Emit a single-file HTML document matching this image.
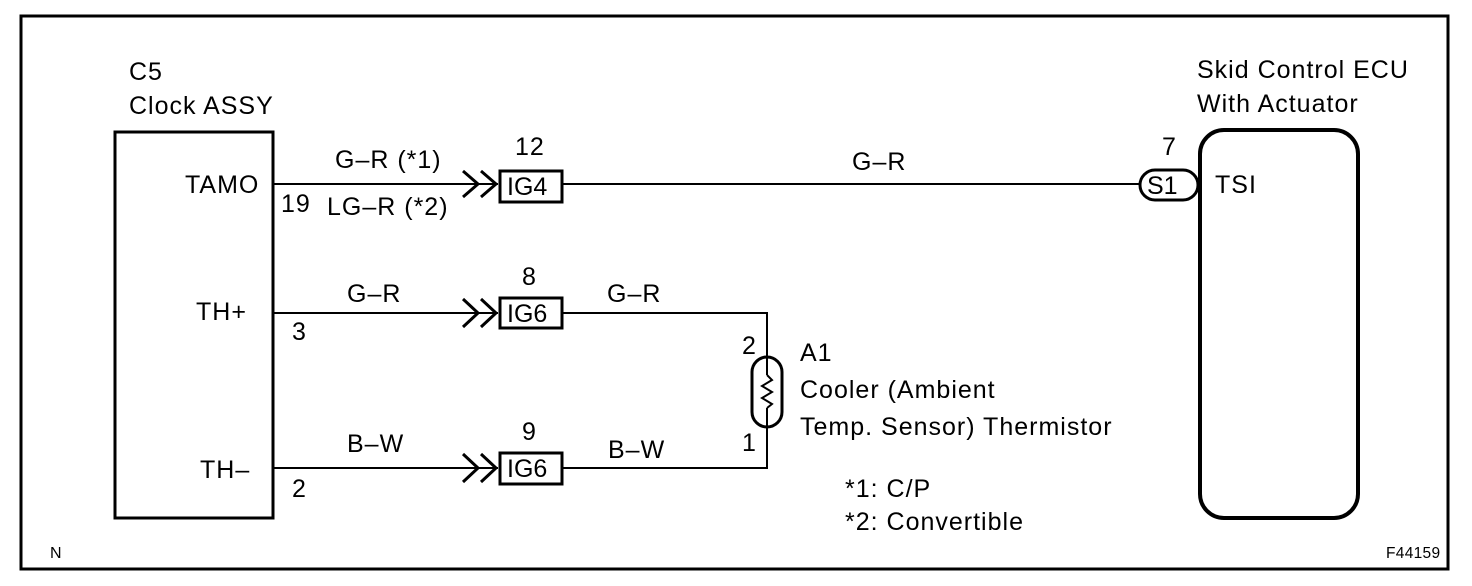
<!DOCTYPE html>
<html><head><meta charset="utf-8"><style>
html,body{margin:0;padding:0;background:#fff;}
svg{display:block;}
text{font-family:"Liberation Sans",Arial,sans-serif;font-size:25px;letter-spacing:1px;fill:#000;}
</style></head><body>
<svg width="1472" height="586" viewBox="0 0 1472 586" xmlns="http://www.w3.org/2000/svg">
<rect x="21" y="16" width="1427" height="553" fill="none" stroke="#000" stroke-width="3"/>
<rect x="115" y="132" width="158" height="386" fill="none" stroke="#000" stroke-width="3"/>
<text x="129" y="80">C5</text>
<text x="129" y="114">Clock ASSY</text>
<rect x="1200" y="130" width="158" height="388" rx="24" ry="24" fill="none" stroke="#000" stroke-width="4"/>
<text x="1197" y="78">Skid Control ECU</text>
<text x="1197" y="112">With Actuator</text>
<g stroke="#000" stroke-width="2" fill="none">
<line x1="273" y1="184" x2="498" y2="184"/>
<polyline points="463,171 478,184 463,197" stroke-width="3"/>
<polyline points="481,171 496,184 481,197" stroke-width="3"/>
<rect x="500" y="171" width="62" height="31" stroke-width="3"/>
<line x1="562" y1="184" x2="1140" y2="184"/>
<rect x="1140" y="170" width="58" height="30" rx="15" ry="15" stroke-width="3"/>
<line x1="273" y1="313" x2="498" y2="313"/>
<polyline points="463,299 478,313 463,327" stroke-width="3"/>
<polyline points="481,299 496,313 481,327" stroke-width="3"/>
<rect x="500" y="298" width="62" height="30" stroke-width="3"/>
<polyline points="562,313 767,313 767,468 562,468"/>
<line x1="273" y1="468" x2="498" y2="468"/>
<polyline points="463,454 478,468 463,482" stroke-width="3"/>
<polyline points="481,454 496,468 481,482" stroke-width="3"/>
<rect x="500" y="453" width="62" height="31" stroke-width="3"/>
<rect x="752" y="357" width="30" height="70" rx="15" ry="15" fill="#fff" stroke-width="3"/>
<line x1="767" y1="357" x2="767" y2="375"/>
<polyline points="767,375 772,380 762,386 772,392 762,398 772,404 767,408"/>
<line x1="767" y1="408" x2="767" y2="427"/>
</g>
<text x="185" y="193">TAMO</text>
<text x="281" y="212">19</text>
<text x="335" y="168">G–R (*1)</text>
<text x="327" y="215">LG–R (*2)</text>
<text x="515" y="155">12</text>
<text x="507" y="195" style="letter-spacing:0">IG4</text>
<text x="852" y="170">G–R</text>
<text x="1162" y="155">7</text>
<text x="1147" y="194" style="letter-spacing:0">S1</text>
<text x="1215" y="193">TSI</text>
<text x="196" y="320">TH+</text>
<text x="292" y="340">3</text>
<text x="347" y="302">G–R</text>
<text x="522" y="285">8</text>
<text x="507" y="322" style="letter-spacing:0">IG6</text>
<text x="607" y="302">G–R</text>
<text x="742" y="354">2</text>
<text x="800" y="361">A1</text>
<text x="800" y="398">Cooler (Ambient</text>
<text x="800" y="435">Temp. Sensor) Thermistor</text>
<text x="742" y="451">1</text>
<text x="200" y="478">TH–</text>
<text x="292" y="497">2</text>
<text x="347" y="452">B–W</text>
<text x="522" y="440">9</text>
<text x="507" y="477" style="letter-spacing:0">IG6</text>
<text x="608" y="458">B–W</text>
<text x="845" y="497">*1: C/P</text>
<text x="845" y="530">*2: Convertible</text>
<text x="50" y="558" style="font-size:16px;letter-spacing:0">N</text>
<text x="1386" y="558" style="font-size:15.5px;letter-spacing:0.3px">F44159</text>
</svg>
</body></html>
